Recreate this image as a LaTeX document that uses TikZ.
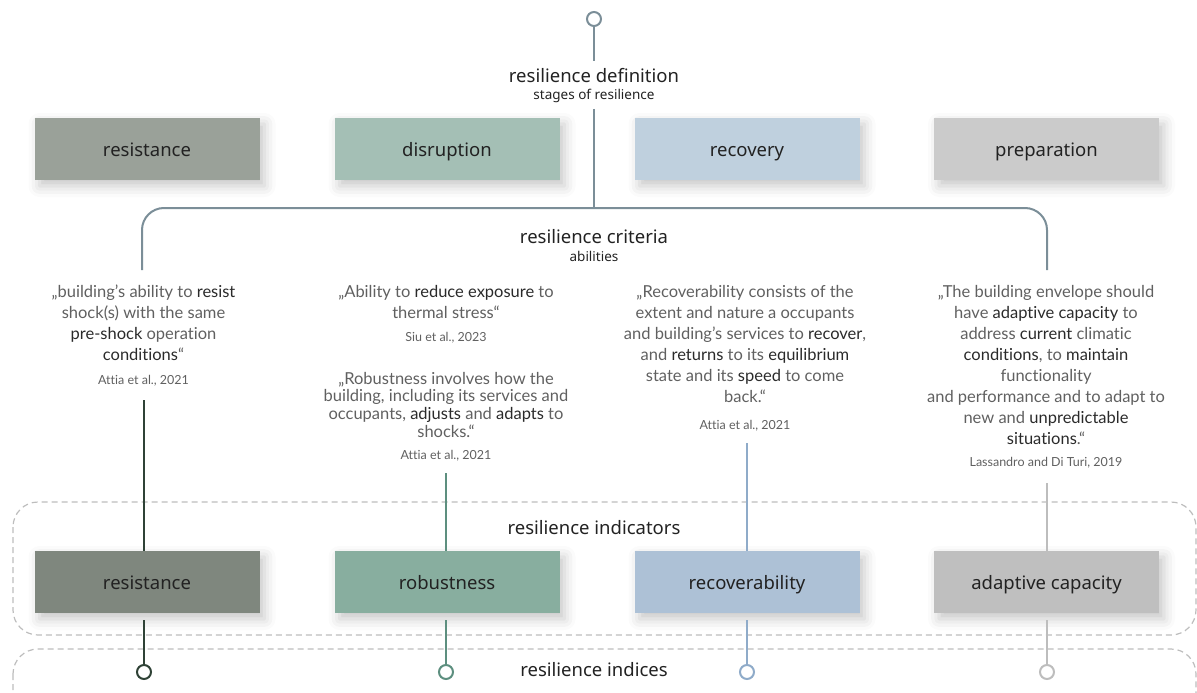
\documentclass[tikz,border=0pt]{standalone}
\usepackage{fontspec}
\setmainfont{Noto Sans}
\newfontfamily\qfont{Lato}[RawFeature=-liga]
\usetikzlibrary{shadows.blur}
\definecolor{txt}{HTML}{222222}
\definecolor{qtxt}{HTML}{606060}
\definecolor{qdark}{HTML}{2A2A2A}
\definecolor{topline}{HTML}{7B8E98}
\definecolor{dashc}{HTML}{BDBDBD}
\definecolor{bA}{HTML}{9AA199}
\definecolor{bB}{HTML}{A4BFB5}
\definecolor{bC}{HTML}{BFD0DE}
\definecolor{bD}{HTML}{CBCBCB}
\definecolor{rA}{HTML}{7F877E}
\definecolor{rB}{HTML}{88AE9F}
\definecolor{rC}{HTML}{ADC1D6}
\definecolor{rD}{HTML}{BFBFBF}
\definecolor{cA}{HTML}{2F4236}
\definecolor{cB}{HTML}{5D8F7F}
\definecolor{cC}{HTML}{8FABC9}
\definecolor{cD}{HTML}{BDBDBD}
\newcommand{\hl}[1]{{\color{qdark}#1}}
\begin{document}
\begin{tikzpicture}[x=1pt,y=-1pt,
  stagebox/.style={minimum width=225pt, minimum height=62pt, inner sep=0pt,
    text height=15pt, text depth=0pt,
    font=\fontsize{18.5}{22}\selectfont, text=txt,
    blur shadow={shadow xshift=5pt, shadow yshift=-6pt, shadow blur radius=11pt, shadow opacity=22}},
  head/.style={font=\fontsize{18.5}{22}\selectfont, text=txt, inner sep=0pt},
  subhead/.style={font=\fontsize{13.5}{16}\selectfont, text=txt, inner sep=0pt},
  quote/.style={font=\qfont\fontsize{16.5}{21}\selectfont, align=center, text=qtxt, inner sep=0pt, anchor=north},
  quotetight/.style={quote, font=\qfont\fontsize{16.5}{17.6}\selectfont},
  cite/.style={font=\qfont\fontsize{12.5}{15}\selectfont, text=qtxt, inner sep=0pt},
  ring/.style={circle, draw=#1, line width=2pt, fill=white, minimum size=14pt, inner sep=0pt},
  conn/.style={draw=#1, line width=2pt},
  dashbox/.style={draw=dashc, line width=1.2pt, dash pattern=on 6pt off 4pt, rounded corners=25pt}]
\useasboundingbox (0,0) rectangle (1197,693);

% dashed groups
\draw[dashbox] (13,502) rectangle (1196,635);
\draw[dashbox] (13,649) rectangle (1196,720);

% top definition
\node[ring=topline] (topc) at (594,19) {};
\node[head] (defn) at (594,76) {resilience definition};
\node[subhead] (defsub) at (594,96) {stages of resilience};
\coordinate (bj) at (594,208);
\coordinate (bl) at (142,270);
\coordinate (br) at (1047,270);
\draw[conn=topline] (topc.south) -- ([yshift=8pt]defn.north);
\draw[conn=topline] ([yshift=-6pt]defsub.south) -- (bj);
\draw[conn=topline, rounded corners=22pt] (bl) |- (bj) -| (br);

% stage boxes
\node[stagebox, fill=bA] (s1) at (147,149) {resistance};
\node[stagebox, fill=bB] (s2) at (447,149) {disruption};
\node[stagebox, fill=bC] (s3) at (747,149) {recovery};
\node[stagebox, fill=bD] (s4) at (1046.5,149) {preparation};

% criteria
\node[head] (crit) at (594,237) {resilience criteria};
\node[subhead] (critsub) at (594,256) {abilities};

% quotes
\node[quote] (q1) at (143.5,285) {„building’s ability to \hl{resist}\\shock(s) with the same\\\hl{pre-shock} operation\\\hl{conditions}“};
\node[cite] (c1) at (143.5,381) {Attia et al., 2021};

\node[quote] (q2a) at (446,285) {„Ability to \hl{reduce exposure} to\\thermal stress“};
\node[cite] (c2a) at (446,338) {Siu et al., 2023};
\node[quotetight] (q2b) at (446,372) {„Robustness involves how the\\building, including its services and\\occupants, \hl{adjusts} and \hl{adapts} to\\shocks.“};
\node[cite] (c2b) at (446,456) {Attia et al., 2021};

\node[quote] (q3) at (745,285) {„Recoverability consists of the\\extent and nature a occupants\\and building’s services to \hl{recover},\\and \hl{returns} to its \hl{equilibrium}\\state and its \hl{speed} to come\\back.“};
\node[cite] (c3) at (745,426) {Attia et al., 2021};

\node[quote] (q4) at (1046,285) {„The building envelope should\\have \hl{adaptive capacity} to\\address \hl{current} climatic\\\hl{conditions}, to \hl{maintain}\\functionality\\and performance and to adapt to\\new and \hl{unpredictable}\\\hl{situations}.“};
\node[cite] (c4) at (1046,463) {Lassandro and Di Turi, 2019};

% indicators
\node[head] (ind) at (594,528) {resilience indicators};
\node[stagebox, fill=rA] (r1) at (147,582) {resistance};
\node[stagebox, fill=rB] (r2) at (447,582) {robustness};
\node[stagebox, fill=rC] (r3) at (747,582) {recoverability};
\node[stagebox, fill=rD] (r4) at (1046.5,582) {adaptive capacity};

\coordinate (l1) at (144,400);
\coordinate (l2) at (446,473);
\coordinate (l3) at (747,443);
\coordinate (l4) at (1047,483);
\draw[conn=cA] (l1) -- (l1 |- r1.north);
\draw[conn=cB] (l2) -- (l2 |- r2.north);
\draw[conn=cC] (l3) -- (l3 |- r3.north);
\draw[conn=cD] (l4) -- (l4 |- r4.north);

% indices
\node[head] (idx) at (594,670) {resilience indices};
\node[ring=cA] (i1) at (144,672) {};
\node[ring=cB] (i2) at (446,672) {};
\node[ring=cC] (i3) at (747,672) {};
\node[ring=cD] (i4) at (1047,672) {};
\path (i1 |- r1.south) coordinate (t1);
\path (i2 |- r2.south) coordinate (t2);
\path (i3 |- r3.south) coordinate (t3);
\path (i4 |- r4.south) coordinate (t4);
\draw[conn=cA] ([yshift=-7pt]t1) -- (i1.north);
\draw[conn=cB] ([yshift=-7pt]t2) -- (i2.north);
\draw[conn=cC] ([yshift=-7pt]t3) -- (i3.north);
\draw[conn=cD] ([yshift=-7pt]t4) -- (i4.north);
\end{tikzpicture}
\end{document}
